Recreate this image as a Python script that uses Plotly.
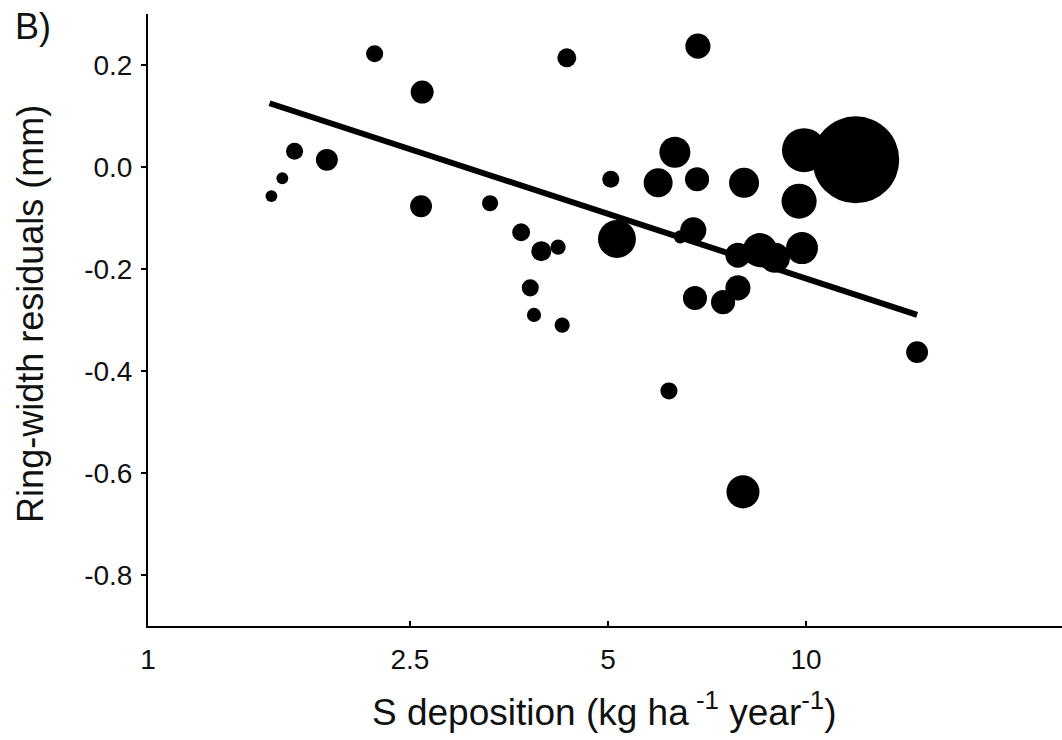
import plotly.graph_objects as go

# S deposition (kg ha-1 year-1)
s_dep = [1.54, 1.60, 1.67, 1.87, 2.21, 2.61, 2.60, 3.31, 3.69, 3.96, 4.20, 3.81,
         3.86, 4.26, 4.33, 5.05, 5.16, 5.96, 6.32, 6.83, 6.85, 8.05, 9.93, 11.9,
         9.76, 9.86, 6.74, 6.44, 7.88, 8.51, 8.97, 6.78, 7.48, 7.88, 14.75, 6.19, 8.02]
# Ring-width residuals (mm)
resid = [-0.057, -0.022, 0.031, 0.014, 0.222, 0.147, -0.077, -0.071, -0.128, -0.165,
         -0.157, -0.237, -0.290, -0.310, 0.214, -0.024, -0.141, -0.031, 0.029, -0.024,
         0.237, -0.031, 0.033, 0.014, -0.067, -0.159, -0.124, -0.137, -0.173, -0.163,
         -0.178, -0.257, -0.265, -0.237, -0.363, -0.439, -0.637]
# bubble weight (relative)
weight = [1.4, 1.4, 2.9, 4.8, 2.9, 5.3, 4.8, 2.6, 3.2, 4.0, 2.3, 2.9,
          2.0, 2.3, 3.6, 2.9, 14.4, 8.4, 9.6, 5.8, 6.3, 9.0, 19.4, 75.7,
          12.3, 10.2, 6.8, 1.7, 6.3, 11.6, 9.0, 5.8, 5.8, 6.3, 4.8, 2.9, 10.9]

fit_x = [1.53, 14.75]
fit_y = [0.125, -0.290]

x_ticks = [1, 2.5, 5, 10]
x_ticklabels = ["1", "2.5", "5", "10"]
y_ticks = [0.2, 0.0, -0.2, -0.4, -0.6, -0.8]
y_ticklabels = ["0.2", "0.0", "-0.2", "-0.4", "-0.6", "-0.8"]

FONT = "Liberation Sans, Arial, sans-serif"

fig = go.Figure()
fig.add_trace(go.Scatter(
    x=s_dep, y=resid, mode="markers",
    marker=dict(size=weight, sizemode="area", sizeref=0.02, color="black",
                line=dict(width=0), opacity=1),
    showlegend=False,
))
fig.add_trace(go.Scatter(
    x=fit_x, y=fit_y, mode="lines",
    line=dict(color="black", width=6), showlegend=False,
))

fig.update_layout(
    width=1062, height=740,
    margin=dict(l=148, r=0, t=14, b=114),
    paper_bgcolor="white", plot_bgcolor="white",
    font=dict(family=FONT, color="#111"),
    xaxis=dict(type="log", range=[0, 1.389], tickvals=x_ticks, ticktext=x_ticklabels,
               ticks="inside", ticklen=5, tickwidth=2, tickcolor="black",
               showline=True, linecolor="black", linewidth=2, showgrid=False,
               zeroline=False, tickfont=dict(size=28, family=FONT, color="#111"),
               ticklabelstandoff=7),
    yaxis=dict(range=[-0.9, 0.3], tickvals=y_ticks, ticktext=y_ticklabels,
               ticks="outside", ticklen=5, tickwidth=2, tickcolor="black",
               showline=True, linecolor="black", linewidth=2, showgrid=False,
               zeroline=False, tickfont=dict(size=28, family=FONT, color="#111"),
               ticklabelstandoff=3),
    annotations=[
        dict(text="S deposition (kg ha<sup> -1</sup> year<sup>-1</sup>)",
             xref="paper", yref="paper", x=0.499, y=-0.137, yanchor="middle",
             xanchor="center", showarrow=False, font=dict(size=37, family=FONT, color="#111")),
        dict(text="Ring-width residuals (mm)", textangle=-90,
             xref="paper", yref="paper", x=-0.128, y=0.51, xanchor="center",
             yanchor="middle", showarrow=False, font=dict(size=36, family=FONT, color="#111")),
        dict(text="B)", xref="paper", yref="paper", x=-0.148, y=0.979, xanchor="left",
             yanchor="middle", showarrow=False, font=dict(size=36, family=FONT, color="#111")),
    ],
)

fig.write_html("out.html")
